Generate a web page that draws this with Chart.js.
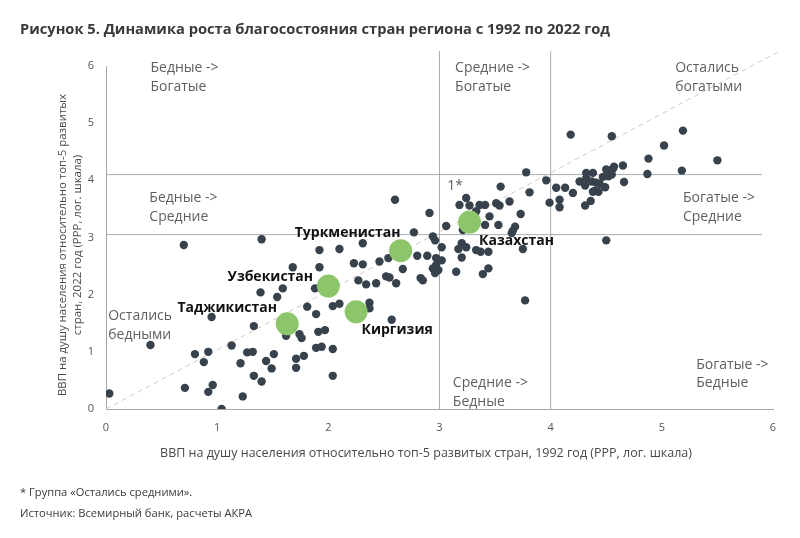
<!DOCTYPE html>
<html>
<head>
<meta charset="utf-8">
<script src="https://cdn.jsdelivr.net/npm/chart.js@4.4.1/dist/chart.umd.min.js"></script>
<style>
  body { margin: 0; background: #fff; }
  #wrap { width: 800px; height: 538px; }
</style>
</head>
<body>
<div id="wrap"><canvas id="chart"></canvas></div>
<script>
// ВВП на душу населения относительно топ-5 (лог. шкала): 1992 и 2022
const gdp1992 = [0.03, 1.04, 0.40, 0.70, 0.71, 0.80, 0.88, 0.92, 0.92, 0.96, 0.95, 1.13, 1.21, 1.23, 1.27, 1.32, 1.33, 1.33, 1.40, 1.40,
  1.39, 1.44, 1.49, 1.51, 1.54, 1.59, 1.62, 1.68, 1.71, 1.71, 1.74, 1.76, 1.78, 1.81, 1.88, 1.89, 1.89, 1.91, 1.92, 1.92,
  1.94, 1.97, 2.04, 2.04, 2.04, 2.10, 2.10, 2.23, 2.27, 2.31, 2.31, 2.34, 2.37, 2.37, 2.43, 2.46, 2.52, 2.54, 2.55, 2.57,
  2.60, 2.61, 2.67, 2.77, 2.80, 2.83, 2.85, 2.89, 2.91, 2.94, 2.96, 2.94, 2.96, 2.97, 2.97, 2.99, 3.02, 3.02, 3.06, 3.15,
  3.17, 3.20, 3.20, 3.21, 3.24, 3.24, 3.18, 3.27, 3.33, 3.33, 3.36, 3.37, 3.39, 3.41, 3.41, 3.44, 3.44, 3.45, 3.51, 3.53,
  3.54, 3.55, 3.63, 3.65, 3.66, 3.68, 3.73, 3.75, 3.77, 3.78, 3.81, 3.96, 3.99, 4.05, 4.08, 4.08, 4.13, 4.18, 4.20, 4.26,
  4.31, 4.31, 4.32, 4.32, 4.36, 4.37, 4.38, 4.38, 4.40, 4.41, 4.43, 4.44, 4.47, 4.49, 4.50, 4.50, 4.52, 4.53, 4.55, 4.55,
  4.56, 4.57, 4.65, 4.66, 4.87, 4.88, 5.02, 5.18, 5.19, 5.50];
const gdp2022 = [0.27, 0.00, 1.12, 2.87, 0.37, 0.96, 0.82, 1.00, 0.30, 0.42, 1.61, 1.11, 0.80, 0.22, 0.99, 1.00, 1.45, 0.58, 0.48, 2.97,
  2.04, 0.84, 0.71, 0.96, 1.96, 2.11, 1.28, 2.48, 0.88, 0.72, 1.31, 1.24, 0.93, 1.79, 2.11, 1.66, 1.07, 1.35, 2.78, 2.48,
  1.09, 1.38, 1.05, 0.58, 1.80, 1.84, 2.80, 2.55, 2.25, 2.90, 2.53, 2.18, 1.86, 1.76, 2.20, 2.58, 2.32, 2.64, 2.30, 1.56,
  3.66, 2.20, 2.45, 3.09, 2.68, 2.29, 2.25, 2.68, 3.43, 3.02, 2.95, 2.46, 2.38, 2.64, 2.52, 2.43, 2.60, 2.83, 3.20, 2.40,
  2.80, 2.90, 2.65, 3.13, 2.83, 3.69, 3.57, 3.56, 3.46, 2.78, 3.57, 2.75, 2.36, 3.57, 3.22, 2.75, 2.46, 3.37, 3.60, 3.22,
  3.56, 3.89, 3.63, 3.08, 3.12, 3.19, 3.41, 2.80, 1.90, 4.14, 3.79, 4.00, 3.61, 3.87, 3.66, 3.53, 3.87, 4.80, 3.78, 3.98,
  3.91, 3.56, 4.13, 4.04, 3.64, 3.98, 4.13, 3.80, 3.82, 3.96, 3.80, 3.94, 4.06, 3.88, 2.95, 4.19, 4.07, 4.17, 4.10, 4.77,
  4.20, 4.24, 4.26, 3.97, 4.11, 4.38, 4.61, 4.17, 4.87, 4.35];

const countries = ['Таджикистан', 'Узбекистан', 'Киргизия', 'Туркменистан', 'Казахстан'];
const country1992 = [1.63, 2.00, 2.25, 2.65, 3.27];
const country2022 = [1.49, 2.15, 1.70, 2.77, 3.27];

const xTicks = [0, 1, 2, 3, 4, 5, 6];
const yTicks = [0, 1, 2, 3, 4, 5, 6];
const split1992 = [3, 4];       // границы групп, 1992
const split2022 = [3.05, 4.1];  // границы групп, 2022

const FONT = '"Open Sans", "Noto Sans", sans-serif';

function fitFont(ctx, text, width, weight) {
  ctx.font = weight + ' 100px ' + FONT;
  const size = 100 * width / ctx.measureText(text).width;
  ctx.font = weight + ' ' + size.toFixed(2) + 'px ' + FONT;
}

// подписи квадрантов и стран, заголовок, сноски
const textPlugin = {
  id: 'texts',
  afterDatasetsDraw(chart) {
    const ctx = chart.ctx;
    const xs = chart.scales.x, ys = chart.scales.y;
    ctx.save();
    ctx.textBaseline = 'middle';

    // квадранты
    const notes = [
      [['Бедные ->', 'Богатые'], 0.40, 5.96],
      [['Средние ->', 'Богатые'], 3.14, 5.96],
      [['Остались', 'богатыми'], 5.12, 5.96],
      [['Бедные ->', 'Средние'], 0.39, 3.69],
      [['1*'], 3.07, 3.90],
      [['Богатые ->', 'Средние'], 5.19, 3.69],
      [['Остались', 'бедными'], 0.02, 1.62],
      [['Средние ->', 'Бедные'], 3.12, 0.45],
      [['Богатые ->', 'Бедные'], 5.31, 0.77]
    ];
    ctx.fillStyle = '#5f5f5f';
    ctx.font = '14px ' + FONT;
    ctx.textAlign = 'left';
    notes.forEach(([lines, x, y]) => {
      const px = xs.getPixelForValue(x), py = ys.getPixelForValue(y);
      lines.forEach((t, i) => ctx.fillText(t, px, py + i * 18.5));
    });

    // страны
    const offsets = {
      'Таджикистан': [-60, -16],
      'Узбекистан': [-58, -9],
      'Киргизия': [41, 18],
      'Туркменистан': [-53, -18],
      'Казахстан': [47, 19]
    };
    ctx.fillStyle = '#111';
    ctx.font = 'bold 14px ' + FONT;
    ctx.textAlign = 'center';
    countries.forEach((name, i) => {
      const px = xs.getPixelForValue(country1992[i]), py = ys.getPixelForValue(country2022[i]);
      ctx.fillText(name, px + offsets[name][0], py + offsets[name][1]);
    });

    // заголовок
    ctx.textAlign = 'left';
    ctx.fillStyle = '#3a3a3a';
    const title = 'Рисунок 5. Динамика роста благосостояния стран региона с 1992 по 2022 год';
    fitFont(ctx, title, 590, 'bold');
    ctx.fillText(title, 20, 30);

    // подписи осей
    ctx.fillStyle = '#4a4a4a';
    ctx.textAlign = 'center';
    const xTitle = 'ВВП на душу населения относительно топ-5 развитых стран, 1992 год (PPP, лог. шкала)';
    fitFont(ctx, xTitle, 532, 'normal');
    ctx.fillText(xTitle, 426, 453);

    const yTitle1 = 'ВВП на душу населения относительно топ-5 развитых';
    const yTitle2 = 'стран, 2022 год (PPP, лог. шкала)';
    ctx.save();
    ctx.translate(63, 245);
    ctx.rotate(-Math.PI / 2);
    fitFont(ctx, yTitle1, 302, 'normal');
    ctx.fillText(yTitle1, 0, 0);
    ctx.fillText(yTitle2, 0, 15);
    ctx.restore();

    // сноски
    ctx.textAlign = 'left';
    ctx.fillStyle = '#3a3a3a';
    const note1 = '* Группа «Остались средними».';
    const note2 = 'Источник: Всемирный банк, расчеты АКРА';
    fitFont(ctx, note2, 232, 'normal');
    ctx.fillText(note1, 20, 493);
    ctx.fillText(note2, 20, 514);
    ctx.restore();
  }
};

const lineStyle = { showLine: true, pointRadius: 0, borderColor: '#a7adb3', borderWidth: 1, clip: false };

const ctx = document.getElementById('chart');
new Chart(ctx, {
  type: 'scatter',
  data: {
    datasets: [
      ...split1992.map(v => ({ ...lineStyle, order: 5, data: [{ x: v, y: 0 }, { x: v, y: 6.26 }] })),
      ...split2022.map(v => ({ ...lineStyle, order: 5, data: [{ x: 0, y: v }, { x: 5.9, y: v }] })),
      {
        showLine: true, pointRadius: 0, borderColor: '#d8c6c6', borderWidth: 1, borderDash: [5, 4], clip: false, order: 4,
        data: [{ x: 0, y: 0 }, { x: 6.05, y: 6.25 }]
      },
      {
        order: 2,
        data: gdp1992.map((v, i) => ({ x: v, y: gdp2022[i] })),
        pointRadius: 4.2, pointBackgroundColor: '#37424d', pointBorderWidth: 0
      },
      {
        order: 1,
        data: country1992.map((v, i) => ({ x: v, y: country2022[i] })),
        pointRadius: 11.5, pointBackgroundColor: '#8cc56a', pointBorderWidth: 0
      }
    ]
  },
  options: {
    responsive: true,
    maintainAspectRatio: false,
    animation: false,
    layout: { padding: { top: 66, right: 27, bottom: 69, left: 0 } },
    plugins: { legend: { display: false }, tooltip: { enabled: false } },
    scales: {
      x: {
        type: 'linear', min: 0, max: 6,
        afterBuildTicks: s => { s.ticks = xTicks.map(v => ({ value: v })); },
        afterFit: s => { s.height = 60; },
        grid: { display: false, drawTicks: false },
        border: { color: '#a6a6a6', width: 1 },
        ticks: { color: '#555', padding: 12, font: { size: 11, family: FONT } }
      },
      y: {
        type: 'linear', min: 0, max: 6,
        afterBuildTicks: s => { s.ticks = yTicks.map(v => ({ value: v })); },
        afterFit: s => { s.width = 106; },
        grid: { display: false, drawTicks: false },
        border: { color: '#a6a6a6', width: 1 },
        ticks: { color: '#555', padding: 12, font: { size: 11, family: FONT } }
      }
    }
  },
  plugins: [textPlugin]
});
</script>
</body>
</html>
